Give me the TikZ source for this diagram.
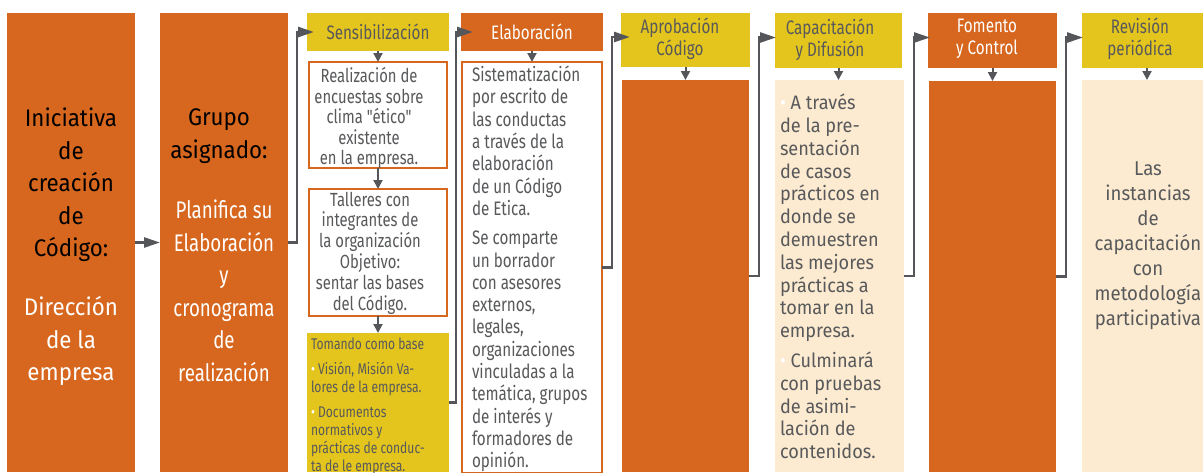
\documentclass[tikz,border=0pt]{standalone}
\usepackage{fontspec}
\setmainfont{Fira Sans}
\newfontfamily\fcond{Fira Sans}[FakeStretch=0.78]
\newfontfamily\fnorm{Fira Sans}[FakeStretch=0.93]
\usetikzlibrary{arrows.meta,calc}
\definecolor{orng}{RGB}{215,103,30}
\definecolor{yel}{RGB}{228,197,29}
\definecolor{crm}{RGB}{253,235,209}
\definecolor{txtc}{RGB}{88,89,91}
\definecolor{connc}{RGB}{85,86,90}
\begin{document}
\begin{tikzpicture}[x=1pt,y=-1pt,
  blk/.style={anchor=north west,inner sep=0pt,outer sep=0pt,draw=none},
  obox/.style={anchor=north west,inner sep=0pt,outer sep=0pt,draw=orng,line width=2pt,fill=white},
  tx/.style={inner sep=0pt,outer sep=0pt,align=center},
  conn/.style={draw=connc,line width=2.5pt,-{Triangle[length=16pt,width=10pt]}},
  dn/.style={draw=connc,line width=2pt,-{Triangle[length=9pt,width=9pt]}}]
\useasboundingbox (0,0) rectangle (1203,472);
\clip (0,0) rectangle (1203,472);
% columns
\node[blk,fill=orng,minimum width=128pt,minimum height=459pt] (b1) at (7,13) {};
\node[blk,fill=orng,minimum width=128pt,minimum height=459pt] (b2) at (160,13) {};
\node[blk,fill=yel,minimum width=142pt,minimum height=38pt] (sens) at (307,13) {};
\node[obox,minimum width=138pt,minimum height=106pt] (real) at (309,62) {};
\node[obox,minimum width=138pt,minimum height=127pt] (tall) at (309,189) {};
\node[blk,fill=yel,minimum width=142pt,minimum height=139pt] (yelB) at (307,333) {};
\node[blk,fill=orng,minimum width=142pt,minimum height=38pt] (elabH) at (461,13) {};
\node[obox,minimum width=140pt,minimum height=411pt] (elabB) at (462,62) {};
\node[blk,fill=yel,minimum width=129pt,minimum height=54pt] (aprH) at (621,13) {};
\node[blk,fill=orng,minimum width=127pt,minimum height=392pt] (aprB) at (622,80) {};
\node[blk,fill=yel,minimum width=127pt,minimum height=55pt] (capH) at (775,13) {};
\node[blk,fill=crm,minimum width=129pt,minimum height=392pt] (capB) at (775,80) {};
\node[blk,fill=orng,minimum width=129pt,minimum height=55pt] (fomH) at (928,13) {};
\node[blk,fill=orng,minimum width=127pt,minimum height=391pt] (fomB) at (929,81) {};
\node[blk,fill=yel,minimum width=130pt,minimum height=55pt] (revH) at (1082,13) {};
\node[blk,fill=crm,minimum width=130pt,minimum height=392pt] (revB) at (1082,80) {};
% texts
\node[tx,font=\fnorm\fontsize{24}{32.5}\selectfont,text=black] (t1a) at (71,185) {Iniciativa\\de\\creación\\de\\Código:};
\node[tx,font=\fnorm\fontsize{24}{32.5}\selectfont,text=white] (t1b) at (71,341) {Dirección\\de la\\empresa};
\node[tx,font=\fnorm\fontsize{24}{32.5}\selectfont,text=black] (t2a) at (219,136) {Grupo\\asignado:};
\node[tx,font=\fcond\fontsize{24}{32.5}\selectfont,text=white] (t2b) at (224,291) {Planifica su\\Elaboración\\y\\cronograma\\de\\realización};
\node[tx,font=\fcond\fontsize{19.5}{22}\selectfont,text=txtc] (tsens) at (378,32) {Sensibilización};
\node[tx,font=\fcond\fontsize{19}{20.5}\selectfont,text=txtc] (treal) at (369,118) {Realización de\\encuestas sobre\\clima "ético"\\existente\\en la empresa.};
\node[tx,font=\fcond\fontsize{19}{20.8}\selectfont,text=txtc] (ttall) at (370,253) {Talleres con\\integrantes de\\la organización\\Objetivo:\\sentar las bases\\del Código.};
\node[tx,align=left,anchor=north west,font=\fcond\fontsize{15.5}{18}\selectfont,text=txtc] (tyel) at (311,338) {Tomando como base\\[7pt]{\color{white}•} Visión, Misión Va-\\lores de la empresa.\\[7pt]{\color{white}•} Documentos\\normativos y\\prácticas de conduc-\\ta de le empresa.};
\node[tx,font=\fcond\fontsize{19.5}{22}\selectfont,text=white] (telabH) at (532,32) {Elaboración};
\node[tx,align=left,anchor=north west,font=\fcond\fontsize{19.5}{22.3}\selectfont,text=txtc] (telab) at (472,66) {Sistematización\\por escrito de\\las conductas\\a través de la\\elaboración\\de un Código\\de Etica.\\[7pt]Se comparte\\un borrador\\con asesores\\externos,\\legales,\\organizaciones\\vinculadas a la\\temática, grupos\\de interés y\\formadores de\\opinión.};
\node[tx,font=\fcond\fontsize{19.5}{22}\selectfont,text=txtc] (taprH) at (680,39) {Aprobación\\Código};
\node[tx,font=\fcond\fontsize{19.5}{22}\selectfont,text=txtc] (tcapH) at (830,39.5) {Capacitación\\y Difusión};
\node[tx,align=left,anchor=north west,font=\fnorm\fontsize{19.5}{22.8}\selectfont,text=txtc] (tcap) at (780,94) {{\color{white}•} A través\\de la pre-\\sentación\\de casos\\prácticos en\\donde se\\demuestren\\las mejores\\prácticas a\\tomar en la\\empresa.\\[7pt]{\color{white}•} Culminará\\con pruebas\\de asimi-\\lación de\\contenidos.};
\node[tx,font=\fcond\fontsize{19.5}{22}\selectfont,text=white] (tfomH) at (987,39) {Fomento\\y Control};
\node[tx,font=\fcond\fontsize{19.5}{22}\selectfont,text=txtc] (trevH) at (1140,39) {Revisión\\periódica};
\node[tx,font=\fnorm\fontsize{20}{25}\selectfont,text=txtc] (trev) at (1148,246) {Las\\instancias\\de\\capacitación\\con\\metodología\\participativa};
% arrows
\draw[conn] (b1.east) -- (b2.west);
\draw[dn] (sens.south) -- (real.north);
\draw[dn] (real.south) -- (tall.north);
\draw[dn] (tall.south) -- (yelB.north);
\draw[dn] (elabH.south) -- (elabB.north);
\draw[dn] (aprH.south) -- (aprB.north);
\draw[dn] (capH.south) -- (capH.south |- capB.north);
\draw[dn] (fomH.south) -- (fomB.north);
\draw[dn] (revH.south) -- (revB.north);
\draw[conn] (b2.east) -- ++(9,0) |- ([xshift=7pt]sens.west);
\draw[conn] (yelB.east) -- ++(7,0) |- ([xshift=12pt]elabH.west);
\draw[conn] (elabB.east) -- ++(10,0) |- ([xshift=9pt,yshift=3pt]aprH.west);
\draw[conn] (aprB.east) -- ++(10,0) |- ([xshift=1pt,yshift=3pt]capH.west);
\draw[conn] (capB.east) -- ++(10,0) |- ([xshift=2pt,yshift=3pt]fomH.west);
\draw[conn] (fomB.east) -- ++(10,0) |- ([xshift=1pt,yshift=3pt]revH.west);
\end{tikzpicture}
\end{document}
